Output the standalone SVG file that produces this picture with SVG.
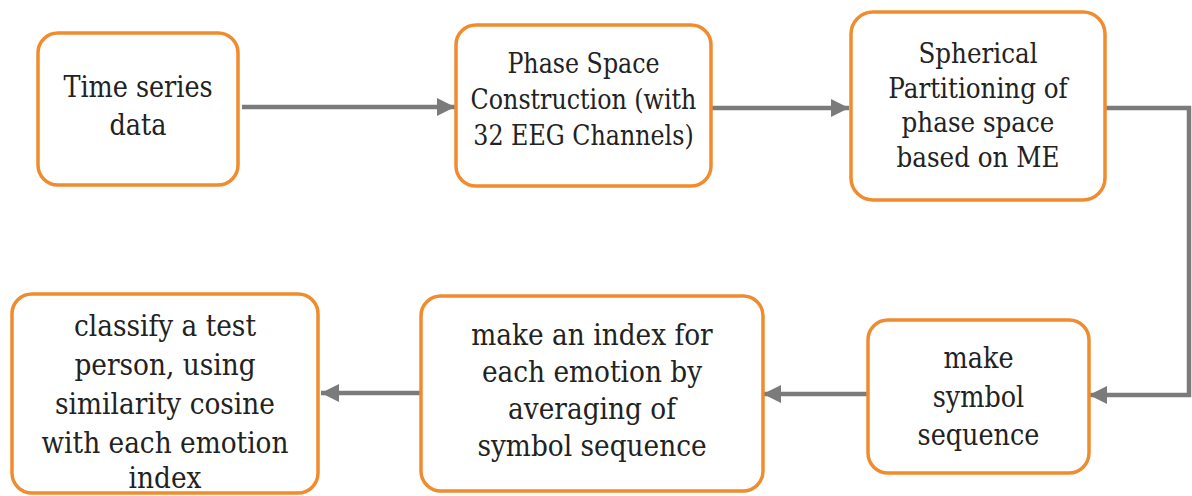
<svg xmlns="http://www.w3.org/2000/svg" width="1192" height="496" viewBox="0 0 1192 496">
<style>
.box{fill:#ffffff;stroke:#f08c2e;stroke-width:3.5}
.t{font-family:'DejaVu Serif',serif;fill:#222222;text-anchor:middle}
.c{fill:none;stroke:#7b7b7b;stroke-width:4.5}
</style>
<defs>
<marker id="ah" markerUnits="userSpaceOnUse" markerWidth="20" markerHeight="20" viewBox="0 0 20 20" refX="18" refY="10" orient="auto">
<path d="M0,1 L18,10 L0,19 Z" fill="#7b7b7b"/>
</marker>
</defs>
<rect width="1192" height="496" fill="#ffffff"/>
<g id="connectors">
<line class="c" x1="242" y1="107" x2="455" y2="107" marker-end="url(#ah)"/>
<line class="c" x1="712" y1="108" x2="849" y2="108" marker-end="url(#ah)"/>
<polyline class="c" points="1106,108 1189,108 1189,395 1089,395" marker-end="url(#ah)"/>
<line class="c" x1="867" y1="394" x2="763" y2="394" marker-end="url(#ah)"/>
<line class="c" x1="420" y1="393" x2="321" y2="393" marker-end="url(#ah)"/>
</g>
<g id="n1">
<rect class="box" x="38" y="33" width="200" height="152" rx="20"/>
<text class="t" font-size="29" transform="translate(138 0) scale(0.88 1)"><tspan x="0" y="97">Time series</tspan><tspan x="0" y="135">data</tspan></text>
</g>
<g id="n2">
<rect class="box" x="456" y="25" width="255" height="161" rx="20"/>
<text class="t" font-size="27" transform="translate(583.5 0) scale(0.88 1)"><tspan x="0" y="73">Phase Space</tspan><tspan x="0" y="109">Construction (with</tspan><tspan x="0" y="145">32 EEG Channels)</tspan></text>
</g>
<g id="n3">
<rect class="box" x="851" y="12" width="254" height="188" rx="22"/>
<text class="t" font-size="28" transform="translate(978 0) scale(0.88 1)"><tspan x="0" y="63">Spherical</tspan><tspan x="0" y="98">Partitioning of</tspan><tspan x="0" y="132">phase space</tspan><tspan x="0" y="167">based on ME</tspan></text>
</g>
<g id="n4">
<rect class="box" x="868" y="320" width="221" height="153" rx="20"/>
<text class="t" font-size="29" transform="translate(978.5 0) scale(0.88 1)"><tspan x="0" y="368">make</tspan><tspan x="0" y="407">symbol</tspan><tspan x="0" y="445">sequence</tspan></text>
</g>
<g id="n5">
<rect class="box" x="421" y="296" width="342" height="195" rx="20"/>
<text class="t" font-size="30" transform="translate(592 0) scale(0.88 1)"><tspan x="0" y="345">make an index for</tspan><tspan x="0" y="382">each emotion by</tspan><tspan x="0" y="419">averaging of</tspan><tspan x="0" y="456">symbol sequence</tspan></text>
</g>
<g id="n6">
<rect class="box" x="12" y="294" width="306" height="199" rx="20"/>
<text class="t" font-size="30" transform="translate(165 0) scale(0.88 1)"><tspan x="0" y="336">classify a test</tspan><tspan x="0" y="375">person, using</tspan><tspan x="0" y="414">similarity cosine</tspan><tspan x="0" y="453">with each emotion</tspan><tspan x="0" y="488">index</tspan></text>
</g>
</svg>
